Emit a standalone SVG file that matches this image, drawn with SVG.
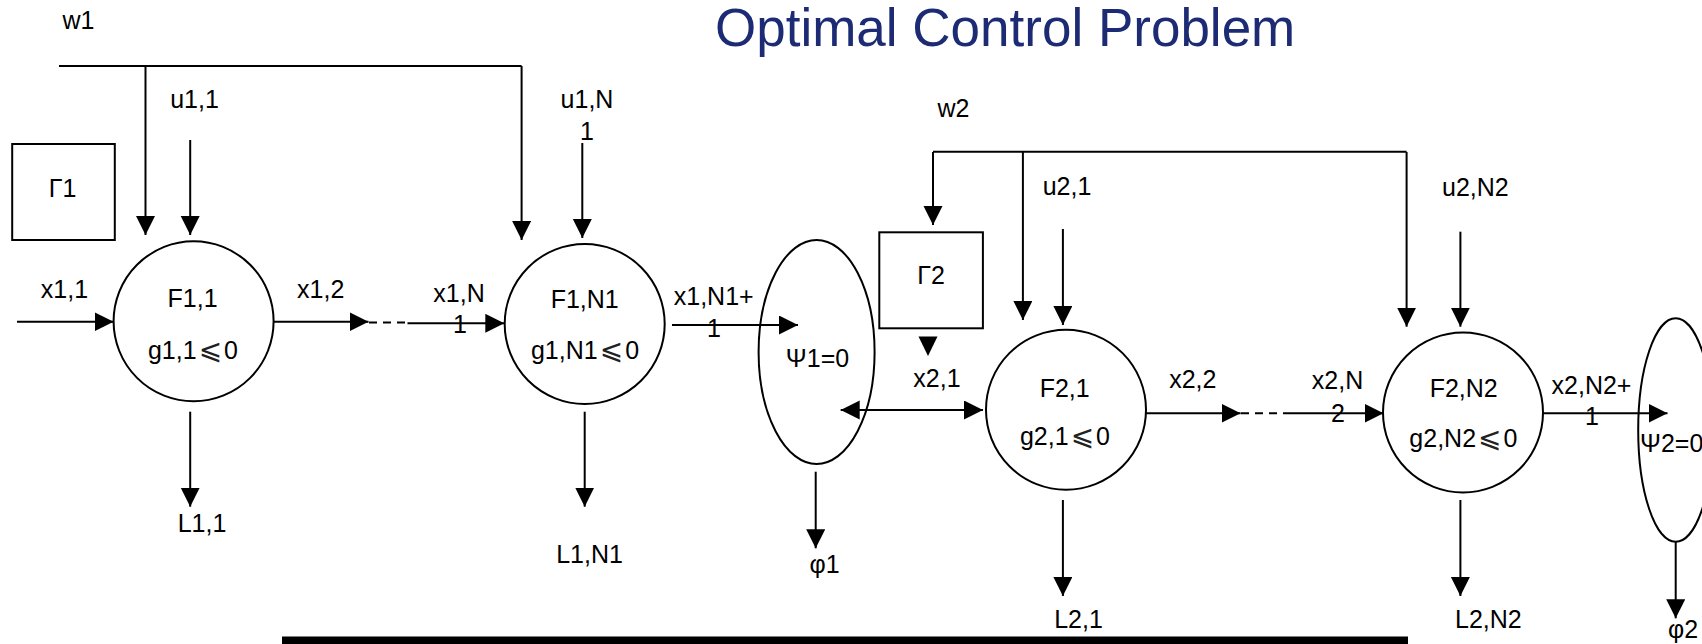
<svg xmlns="http://www.w3.org/2000/svg" width="1702" height="644" viewBox="0 0 1702 644">
<style>
text{font-family:"Liberation Sans",Arial,"DejaVu Sans",sans-serif;font-size:25px;fill:#000}
.m{text-anchor:middle}
.title{font-size:53px;fill:#1c2b73}
.le{font-family:"DejaVu Sans","Noto Sans",sans-serif;font-size:28px;fill:#222}
.shape{fill:none;stroke:#000;stroke-width:2}
.c line,.c path{stroke:#000;stroke-width:2;fill:none}
.a{marker-end:url(#ah)}
.d{stroke-dasharray:8 6}
</style>
<defs>
<marker id="ah" markerUnits="userSpaceOnUse" markerWidth="20" markerHeight="20" refX="19" refY="9.5" orient="auto-start-reverse">
<path d="M0,0 L19,9.5 L0,19 z" fill="#000"/>
</marker>
</defs>
<rect width="1702" height="644" fill="#fff"/>
<text class="title" x="715" y="46">Optimal Control Problem</text>

<g id="connectors" class="c">
<line x1="59" y1="66" x2="521.6" y2="66"/>
<line class="a" x1="145.5" y1="66" x2="145.5" y2="235"/>
<line class="a" x1="521.6" y1="66" x2="521.6" y2="240"/>
<line class="a" x1="190.2" y1="140" x2="190.2" y2="235"/>
<line class="a" x1="582.3" y1="143" x2="582.3" y2="238"/>
<line class="a" x1="17" y1="321.7" x2="113.6" y2="321.7"/>
<line class="a" x1="273.6" y1="321.7" x2="368.5" y2="321.7"/>
<line class="d" x1="369" y1="322.5" x2="407.5" y2="322.5"/>
<line class="a" x1="407.5" y1="323.3" x2="504.3" y2="323.3"/>
<line class="a" x1="190.2" y1="411.7" x2="190.2" y2="506.7"/>
<line class="a" x1="584.7" y1="411.7" x2="584.7" y2="506.7"/>
<line class="a" x1="672" y1="325" x2="798" y2="325"/>
<line class="a" x1="815.7" y1="471.7" x2="815.7" y2="548.3"/>
<line x1="840.7" y1="410" x2="983" y2="410" marker-start="url(#ah)" marker-end="url(#ah)"/>
<line x1="933" y1="151.7" x2="1406.6" y2="151.7"/>
<line class="a" x1="933" y1="152" x2="933" y2="225"/>
<path d="M918.5,336.5 L937.5,336.5 L928,356 z" style="fill:#000;stroke:none"/>
<line class="a" x1="1022.9" y1="152" x2="1022.9" y2="320"/>
<line class="a" x1="1062.9" y1="229" x2="1062.9" y2="325"/>
<line class="a" x1="1406.6" y1="152" x2="1406.6" y2="326.7"/>
<line class="a" x1="1460.4" y1="231.7" x2="1460.4" y2="326.7"/>
<line class="a" x1="1146" y1="413.3" x2="1240.6" y2="413.3"/>
<line class="d" x1="1241" y1="413.3" x2="1287" y2="413.3"/>
<line class="a" x1="1287" y1="413.3" x2="1383.5" y2="413.3"/>
<line class="a" x1="1542.4" y1="413.3" x2="1667.5" y2="413.3"/>
<line class="a" x1="1062.9" y1="500" x2="1062.9" y2="596"/>
<line class="a" x1="1460.4" y1="500" x2="1460.4" y2="596"/>
<line class="a" x1="1675.7" y1="541.7" x2="1675.7" y2="618.3"/>
</g>

<g id="labels">
<text class="m" x="78.5" y="29">w1</text>
<text class="m" x="194.5" y="108">u1,1</text>
<text class="m" x="64.5" y="298">x1,1</text>
<text class="m" x="320.7" y="298">x1,2</text>
<text class="m" x="202" y="532">L1,1</text>
<text class="m" x="459" y="302">x1,N</text>
<text class="m" x="460" y="333">1</text>
<text class="m" x="587" y="108">u1,N</text>
<text class="m" x="587" y="140">1</text>
<text class="m" x="589.5" y="563">L1,N1</text>
<text class="m" x="713.7" y="305">x1,N1+</text>
<text class="m" x="714" y="337">1</text>
<text class="m" x="824.6" y="573">φ1</text>
<text class="m" x="953.5" y="117">w2</text>
<text class="m" x="937" y="387">x2,1</text>
<text class="m" x="1067" y="195">u2,1</text>
<text class="m" x="1078.5" y="628">L2,1</text>
<text class="m" x="1192.8" y="388">x2,2</text>
<text class="m" x="1337.5" y="389">x2,N</text>
<text class="m" x="1338" y="422">2</text>
<text class="m" x="1475.4" y="196">u2,N2</text>
<text class="m" x="1488.4" y="628">L2,N2</text>
<text class="m" x="1591.5" y="394">x2,N2+</text>
<text class="m" x="1592" y="425">1</text>
<text x="1668" y="638">φ2</text>
</g>

<g id="gamma1">
<rect class="shape" x="12.2" y="144" width="102.6" height="96"/>
<text class="m" x="62.5" y="197">Γ1</text>
</g>
<g id="F11">
<circle class="shape" cx="193.6" cy="321.3" r="80"/>
<text class="m" x="192.6" y="307">F1,1</text>
<text class="m" x="193" y="359">g1,1<tspan class="le" dx="2">⩽</tspan><tspan dx="2">0</tspan></text>
</g>
<g id="F1N1">
<circle class="shape" cx="584.7" cy="324" r="80"/>
<text class="m" x="584.7" y="308">F1,N1</text>
<text class="m" x="585" y="359">g1,N1<tspan class="le" dx="2">⩽</tspan><tspan dx="2">0</tspan></text>
</g>
<g id="psi1">
<ellipse class="shape" cx="816.6" cy="352" rx="58" ry="112"/>
<text class="m" x="817.5" y="367">Ψ1=0</text>
</g>
<g id="gamma2">
<rect class="shape" x="879.3" y="232.3" width="103.6" height="96"/>
<text class="m" x="931" y="284">Γ2</text>
</g>
<g id="F21">
<circle class="shape" cx="1066" cy="409.7" r="80"/>
<text class="m" x="1064.7" y="397">F2,1</text>
<text class="m" x="1065" y="445">g2,1<tspan class="le" dx="2">⩽</tspan><tspan dx="2">0</tspan></text>
</g>
<g id="F2N2">
<circle class="shape" cx="1463" cy="412.5" r="80"/>
<text class="m" x="1463.7" y="397">F2,N2</text>
<text class="m" x="1463.4" y="447">g2,N2<tspan class="le" dx="2">⩽</tspan><tspan dx="2">0</tspan></text>
</g>
<g id="psi2">
<ellipse class="shape" cx="1675.7" cy="430" rx="37.5" ry="111.7"/>
<text x="1640" y="452">Ψ2=0</text>
</g>
<g id="bottombar">
<rect x="282" y="636.5" width="1126" height="10" fill="#000"/>
</g>
</svg>
